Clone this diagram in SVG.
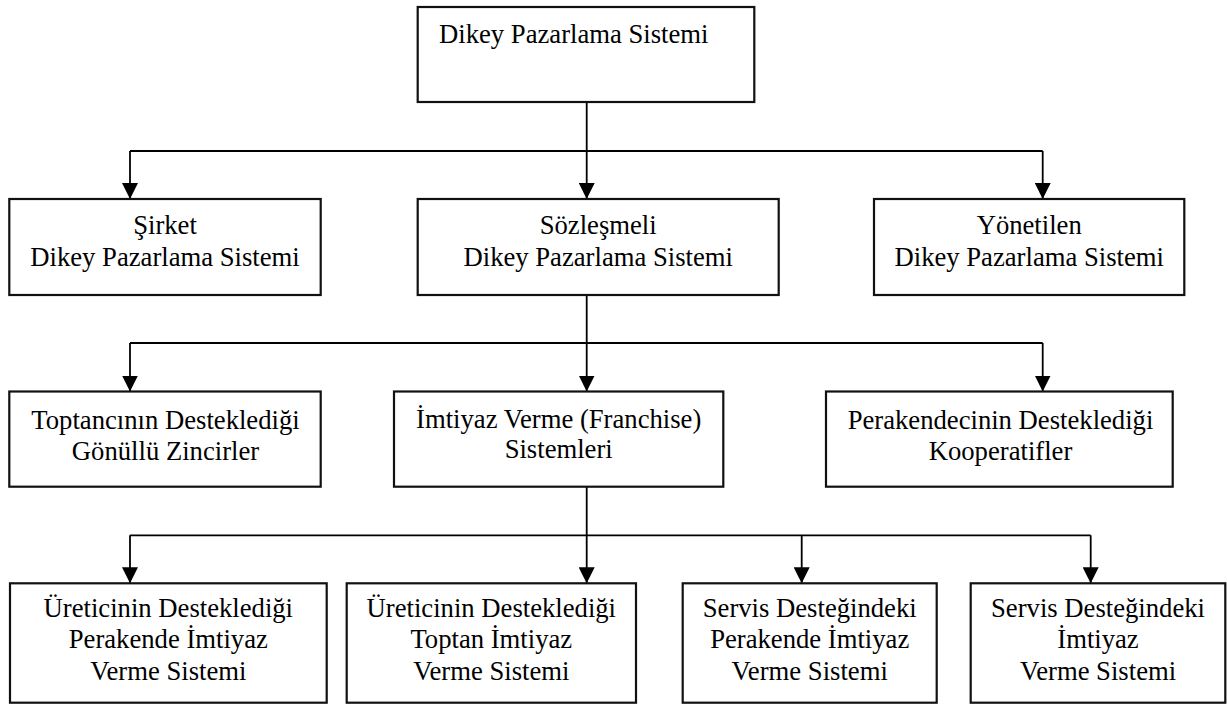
<svg xmlns="http://www.w3.org/2000/svg" width="1227" height="704" viewBox="0 0 1227 704">
  <style>
    .box { fill: #ffffff; stroke: #111111; stroke-width: 2.2; }
    .lbl { font-family: "Liberation Serif", "Times New Roman", serif; font-size: 26.67px; fill: #000000; text-anchor: middle; }
    .lbl-start { text-anchor: start; }
    .wire { fill: none; stroke: #000000; stroke-width: 1.8; }
  </style>
  <defs>
    <marker id="arrow" markerUnits="userSpaceOnUse" markerWidth="16" markerHeight="16" refX="15" refY="7.5" orient="auto" viewBox="0 0 15 15">
      <path d="M0,0 L15,7.5 L0,15 z" fill="#000000"/>
    </marker>
  </defs>
  <rect width="1227" height="704" fill="#ffffff"/>

  <!-- connectors -->
  <g id="connectors">
    <!-- level 1 to level 2 -->
    <line class="wire" x1="586.7" y1="102" x2="586.7" y2="151"/>
    <line class="wire" x1="130" y1="151" x2="1042.7" y2="151"/>
    <line class="wire" x1="130" y1="151" x2="130" y2="199" marker-end="url(#arrow)"/>
    <line class="wire" x1="586.7" y1="151" x2="586.7" y2="199" marker-end="url(#arrow)"/>
    <line class="wire" x1="1042.7" y1="151" x2="1042.7" y2="199" marker-end="url(#arrow)"/>
    <!-- level 2 to level 3 -->
    <line class="wire" x1="586.7" y1="295" x2="586.7" y2="343"/>
    <line class="wire" x1="130" y1="343" x2="1042.7" y2="343"/>
    <line class="wire" x1="130" y1="343" x2="130" y2="391.5" marker-end="url(#arrow)"/>
    <line class="wire" x1="586.7" y1="343" x2="586.7" y2="391.5" marker-end="url(#arrow)"/>
    <line class="wire" x1="1042.7" y1="343" x2="1042.7" y2="391.5" marker-end="url(#arrow)"/>
    <!-- level 3 to level 4 -->
    <line class="wire" x1="586.7" y1="487" x2="586.7" y2="535.3"/>
    <line class="wire" x1="130" y1="535.3" x2="1090.7" y2="535.3"/>
    <line class="wire" x1="130" y1="535.3" x2="130" y2="583.3" marker-end="url(#arrow)"/>
    <line class="wire" x1="586.7" y1="535.3" x2="586.7" y2="583.3" marker-end="url(#arrow)"/>
    <line class="wire" x1="801.7" y1="535.3" x2="801.7" y2="583.3" marker-end="url(#arrow)"/>
    <line class="wire" x1="1090.7" y1="535.3" x2="1090.7" y2="583.3" marker-end="url(#arrow)"/>
  </g>

  <!-- level 1 -->
  <g id="dikey-pazarlama">
    <rect class="box" x="417.7" y="7" width="336.6" height="95"/>
    <text class="lbl lbl-start" x="439" y="43">Dikey Pazarlama Sistemi</text>
  </g>

  <!-- level 2 -->
  <g id="sirket">
    <rect class="box" x="9.3" y="199" width="311.4" height="96"/>
    <text class="lbl" x="165" y="233.5">Şirket</text>
    <text class="lbl" x="165" y="265.5">Dikey Pazarlama Sistemi</text>
  </g>
  <g id="sozlesmeli">
    <rect class="box" x="417.7" y="199" width="361" height="96"/>
    <text class="lbl" x="598.2" y="233.5">Sözleşmeli</text>
    <text class="lbl" x="598.2" y="265.5">Dikey Pazarlama Sistemi</text>
  </g>
  <g id="yonetilen">
    <rect class="box" x="874" y="199" width="310.3" height="96"/>
    <text class="lbl" x="1029.2" y="233.5">Yönetilen</text>
    <text class="lbl" x="1029.2" y="265.5">Dikey Pazarlama Sistemi</text>
  </g>

  <!-- level 3 -->
  <g id="gonullu-zincirler">
    <rect class="box" x="9.3" y="391.5" width="311.4" height="95.2"/>
    <text class="lbl" x="165.5" y="428.5">Toptancının Desteklediği</text>
    <text class="lbl" x="165.5" y="459.5">Gönüllü Zincirler</text>
  </g>
  <g id="imtiyaz-sistemleri">
    <rect class="box" x="394" y="391.5" width="329.3" height="95.2"/>
    <text class="lbl" x="558.7" y="427.5">İmtiyaz Verme (Franchise)</text>
    <text class="lbl" x="558.7" y="458">Sistemleri</text>
  </g>
  <g id="kooperatifler">
    <rect class="box" x="826" y="391.5" width="346.7" height="95.2"/>
    <text class="lbl" x="1000.5" y="428.5">Perakendecinin Desteklediği</text>
    <text class="lbl" x="1000.5" y="459.5">Kooperatifler</text>
  </g>

  <!-- level 4 -->
  <g id="uretici-perakende">
    <rect class="box" x="10" y="583.3" width="316.7" height="119.4"/>
    <text class="lbl" x="168.3" y="616.7">Üreticinin Desteklediği</text>
    <text class="lbl" x="168.3" y="648.3">Perakende İmtiyaz</text>
    <text class="lbl" x="168.3" y="680">Verme Sistemi</text>
  </g>
  <g id="uretici-toptan">
    <rect class="box" x="346.7" y="583.3" width="289.3" height="119.4"/>
    <text class="lbl" x="491.3" y="616.7">Üreticinin Desteklediği</text>
    <text class="lbl" x="491.3" y="648.3">Toptan İmtiyaz</text>
    <text class="lbl" x="491.3" y="680">Verme Sistemi</text>
  </g>
  <g id="servis-perakende">
    <rect class="box" x="682.7" y="583.3" width="254" height="119.4"/>
    <text class="lbl" x="809.7" y="616.7">Servis Desteğindeki</text>
    <text class="lbl" x="809.7" y="648.3">Perakende İmtiyaz</text>
    <text class="lbl" x="809.7" y="680">Verme Sistemi</text>
  </g>
  <g id="servis-imtiyaz">
    <rect class="box" x="970.7" y="583.3" width="254.6" height="119.4"/>
    <text class="lbl" x="1098" y="616.7">Servis Desteğindeki</text>
    <text class="lbl" x="1098" y="648.3">İmtiyaz</text>
    <text class="lbl" x="1098" y="680">Verme Sistemi</text>
  </g>
</svg>
